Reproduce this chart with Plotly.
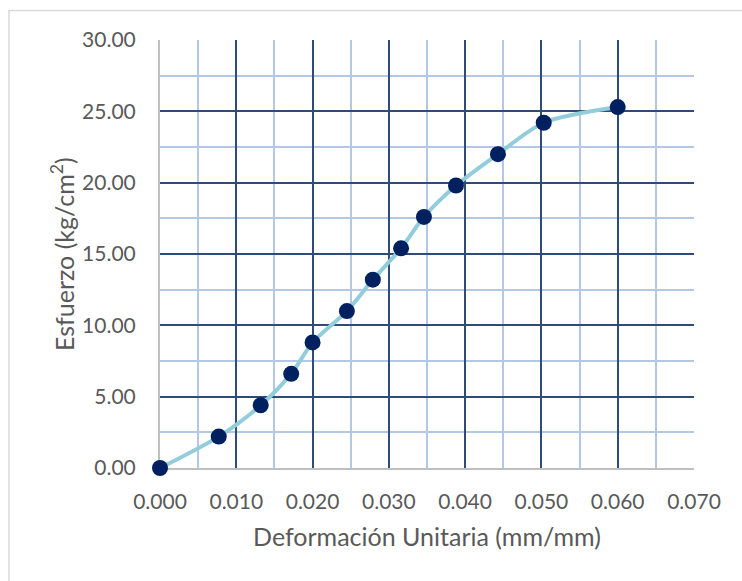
import plotly.graph_objects as go

deformacion = [0.0, 0.0077, 0.0132, 0.0172, 0.0200, 0.0245, 0.0279, 0.0316,
               0.0346, 0.0388, 0.0443, 0.0503, 0.0600]
esfuerzo = [0.0, 2.2, 4.4, 6.6, 8.8, 11.0, 13.2, 15.4, 17.6, 19.8, 22.0, 24.2, 25.3]

x_title = "Deformación Unitaria (mm/mm)"
y_title = "Esfuerzo (kg/cm<sup>2</sup>)"

FONT = "Lato"
TXT = "#595959"
MAJOR = "#2F4B7A"
MINOR = "#B4C7E7"
AXIS = "#BFBFBF"

fig = go.Figure()
fig.add_trace(go.Scatter(
    x=deformacion, y=esfuerzo, mode="lines+markers",
    line=dict(color="#92CDDC", width=4, shape="spline", smoothing=0.8),
    marker=dict(color="#002060", size=16),
    cliponaxis=False,
    showlegend=False,
))

fig.update_layout(
    width=742, height=581,
    margin=dict(l=160, r=48, t=40, b=113),
    paper_bgcolor="white", plot_bgcolor="white",
    font=dict(family=FONT, color=TXT, size=20),
    shapes=[dict(type="rect", xref="paper", yref="paper",
                 x0=-0.2828, x1=1.5, y0=-0.6, y1=1.0689,
                 line=dict(color="#D9D9D9", width=1.5), layer="below")],
    annotations=[dict(text=y_title, textangle=-90, xref="paper", yref="paper",
                      x=-0.1835, y=0.5, xanchor="center", yanchor="middle",
                      showarrow=False, font=dict(size=25, color=TXT))],
)

fig.update_xaxes(
    range=[0, 0.07], dtick=0.01, tick0=0, tickformat=".3f",
    showgrid=True, gridcolor=MAJOR, gridwidth=2,
    minor=dict(dtick=0.005, showgrid=True, gridcolor=MINOR, gridwidth=2),
    zeroline=False, showline=True, linecolor=AXIS, linewidth=2,
    ticks="", ticklabelstandoff=14, layer="below traces",
    title=dict(text=x_title, font=dict(size=25, color=TXT), standoff=16),
    tickfont=dict(size=21, color=TXT),
)
fig.update_yaxes(
    range=[0, 30], dtick=5, tick0=0, tickformat=".2f",
    showgrid=True, gridcolor=MAJOR, gridwidth=2,
    minor=dict(dtick=2.5, showgrid=True, gridcolor=MINOR, gridwidth=2),
    zeroline=False, showline=True, linecolor=AXIS, linewidth=2,
    ticks="", ticklabelstandoff=18, layer="below traces",
    tickfont=dict(size=21, color=TXT),
)

fig.write_html("out.html")
